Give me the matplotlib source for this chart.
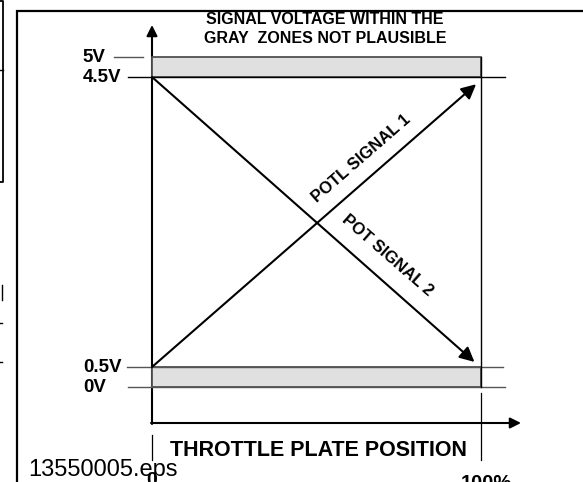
import numpy as np
import matplotlib
matplotlib.use("Agg")
import matplotlib.pyplot as plt

# ---------------------------------------------------------------- data
levels       = [0.0, 0.5, 4.5, 5.0]                  # volts
level_labels = ["0V", "0.5V", "4.5V", "5V"]
gray_zones   = [(0.0, 0.5), (4.5, 5.0)]               # not plausible bands
position     = [0, 100]                               # throttle plate %
potl_x       = [0, 98.5]                              # POTL signal 1
potl_v       = [0.5, 4.4]
pot_x        = [0, 98.0]                              # POT signal 2
pot_v        = [4.5, 0.57]
x_labels     = ["0", "100%"]

title_text = "SIGNAL VOLTAGE WITHIN THE\nGRAY  ZONES NOT PLAUSIBLE"
xlabel     = "THROTTLE PLATE POSITION"
file_tag   = "13550005.eps"

FONT = ["Liberation Sans", "DejaVu Sans"]
plt.rcParams["font.family"] = FONT

# the drawing is not to scale: gray bands are stretched
v_knots  = [0.0, 0.5, 4.5, 5.0]
px_knots = [0.0, 20.0, 310.0, 330.0]
def fwd(v):
    return np.interp(v, v_knots, px_knots, left=np.nan, right=np.nan)
def inv(p):
    return np.interp(p, px_knots, v_knots)

W, H = 583, 482
fig = plt.figure(figsize=(W / 100, H / 100), dpi=100)

# overlay in pixel coords for the frame / decorations
ov = fig.add_axes([0, 0, 1, 1])
ov.set_xlim(0, W)
ov.set_ylim(H, 0)
ov.axis("off")

# data axes
ax = fig.add_axes([152 / W, 95 / H, 329 / W, 330 / H])
ax.set_yscale("function", functions=(fwd, inv))
ax.set_xlim(0, 100)
ax.set_ylim(0, 5)
ax.axis("off")
ax.patch.set_alpha(0)

# frame + clipped neighbour box on the left
ov.plot([17, 17, W], [H, 11, 11], color="k", lw=1.6, solid_joinstyle="miter")
ov.plot([0, 3, 3, 0], [0.5, 0.5, 182, 182], color="k", lw=1.3)
ov.plot([0, 3], [70, 70], color="k", lw=1.0)
ov.plot([1.5, 1.5], [285, 300], color="k", lw=1.0)
ov.plot([0, 2], [323, 323], color="k", lw=1.0)
ov.plot([0, 2], [362, 362], color="k", lw=1.0)

# axis arrows
ov.annotate("", xy=(152, 25), xytext=(152, 424),
            arrowprops=dict(arrowstyle="-|>", lw=1.5, color="k",
                            mutation_scale=16, shrinkA=0, shrinkB=0))
ov.annotate("", xy=(521, 423), xytext=(151, 423),
            arrowprops=dict(arrowstyle="-|>", lw=1.5, color="k",
                            mutation_scale=16, shrinkA=0, shrinkB=0))
# position ticks below the axis
ov.plot([152, 152], [435, 460], color="k", lw=0.9)
ov.plot([481, 481], [393, 460], color="k", lw=0.9)

# gray zones
for lo, hi in gray_zones:
    ax.fill_between(position, lo, hi, facecolor="#e0e0e0",
                    edgecolor="#505050", lw=1.3, zorder=1, clip_on=False)

# level lines
ext = {0.0: (-7.3, 107.3), 0.5: (-7.6, 106.7), 4.5: (-7.3, 107.3),
       5.0: (-11.5, -2.7)}
for v in levels:
    x0, x1 = ext[v]
    col = "k" if v == 4.5 else "#555555"
    ax.plot([x0, x1], [v, v], color=col, lw=1.0, clip_on=False, zorder=2)
ax.plot([100, 100], [0, 5], color="k", lw=1.0, zorder=2, clip_on=False)

for v, lab in zip(levels, level_labels):
    ax.text(-21.0, v, lab, ha="left", va="center", fontsize=13.5,
            fontweight="bold", clip_on=False)

# signals
ax.annotate("", xy=(potl_x[1], potl_v[1]), xytext=(potl_x[0], potl_v[0]),
            arrowprops=dict(arrowstyle="-|>", lw=1.5, color="k",
                            mutation_scale=22, shrinkA=0, shrinkB=0))
ax.annotate("", xy=(pot_x[1], pot_v[1]), xytext=(pot_x[0], pot_v[0]),
            arrowprops=dict(arrowstyle="-|>", lw=1.5, color="k",
                            mutation_scale=22, shrinkA=0, shrinkB=0))
ax.text(63.5, 3.38, "POTL SIGNAL 1", rotation=41, ha="center", va="center",
        fontsize=12, fontweight="bold", rotation_mode="anchor")
ax.text(71.7, 2.04, "POT SIGNAL 2", rotation=-41, ha="center", va="center",
        fontsize=12, fontweight="bold", rotation_mode="anchor")

# texts
ov.text(325, 29, title_text, ha="center", va="center", fontsize=11.5,
        fontweight="bold", linespacing=1.3)
ov.text(318, 450, xlabel, ha="center", va="center", fontsize=15.5,
        fontweight="bold")
ov.text(28, 476, file_tag, ha="left", va="baseline", fontsize=17)
ov.text(152, 472, x_labels[0], ha="center", va="top", fontsize=14,
        fontweight="bold")
ov.text(486, 474, x_labels[1], ha="center", va="top", fontsize=14.5,
        fontweight="bold")

fig.savefig("out.png", dpi=100)
